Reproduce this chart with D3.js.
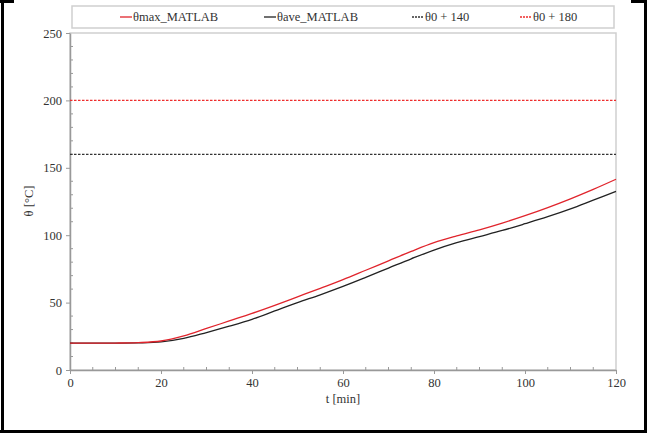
<!DOCTYPE html>
<html><head><meta charset="utf-8">
<script src="https://cdn.jsdelivr.net/npm/d3@7"></script>
<style>body{margin:0;background:#fff}svg{display:block}</style>
</head><body>
<script>
const tMin = [0,5,10,15,20,25,30,35,40,45,50,55,60,65,70,75,80,85,90,95,100,105,110,115,120];
const thetaMax = [20,20,20,20.3,21.5,25.3,30.8,36.4,42,48,54.3,60.6,67,74,81,88,94.5,99.5,104,109,114.5,120.5,127,134,141.5];
const thetaAve = [20,20,20,20.1,20.8,23.4,27.8,32.5,37.6,43.8,50,55.8,62,68.7,75.6,82.5,89,94.5,99,103.5,108.5,113.7,119.5,126,132.5];
const limit140 = 160;
const limit180 = 200;
const xTicks = [0,20,40,60,80,100,120];
const yTicks = [0,50,100,150,200,250];
const legendLabels = ["θmax_MATLAB","θave_MATLAB","θ0 + 140","θ0 + 180"];

const W = 653, H = 439;
const svg = d3.select("body").append("svg").attr("width", W).attr("height", H);
const m = {l:70, r:616, t:33, b:370};
const x = d3.scaleLinear().domain([0,120]).range([m.l, m.r]);
const y = d3.scaleLinear().domain([0,250]).range([m.b, m.t]);
const FONT = '"Liberation Serif"';

// page frame
const frame = svg.append("g").attr("stroke","#000").attr("stroke-width",3).attr("fill","none");
frame.append("path").attr("d","M0,1.5 H14 M2.5,0 V432 M0,431.5 H647 M645.5,432 V0 M631,1.5 H647");

// plot border
svg.append("rect").attr("x",m.l).attr("y",m.t).attr("width",m.r-m.l).attr("height",m.b-m.t)
  .attr("fill","none").attr("stroke","#cfcfcf").attr("stroke-width",1.5);

// minor ticks
const g = svg.append("g");
d3.range(10,250,10).filter(v=>v%50!==0).forEach(v=>{
  g.append("line").attr("x1",m.l).attr("x2",m.l+3).attr("y1",y(v)).attr("y2",y(v)).attr("stroke","#999");
});
d3.range(5,120,5).filter(v=>v%20!==0).forEach(v=>{
  g.append("line").attr("x1",x(v)).attr("x2",x(v)).attr("y1",m.b).attr("y2",m.b-3).attr("stroke","#999");
});

// axes
const ax = svg.append("g").attr("transform",`translate(0,${m.b})`)
  .call(d3.axisBottom(x).tickValues(xTicks).tickSize(4).tickSizeOuter(0).tickPadding(4));
const ay = svg.append("g").attr("transform",`translate(${m.l},0)`)
  .call(d3.axisLeft(y).tickValues(yTicks).tickSize(4).tickSizeOuter(0).tickPadding(4));
[ax,ay].forEach(a=>{
  a.select(".domain").attr("stroke","#999").attr("stroke-width",1.5);
  a.selectAll(".tick line").attr("stroke","#999");
  a.selectAll("text").style("font-family",FONT).style("font-size","12.5px").attr("fill","#333");
});

// axis titles
svg.append("text").attr("x",343).attr("y",403).attr("text-anchor","middle")
  .style("font-family",FONT).style("font-size","12.5px").attr("fill","#333").text("t [min]");
svg.append("text").attr("transform","translate(33,201) rotate(-90)").attr("text-anchor","middle")
  .style("font-family",FONT).style("font-size","12.5px").attr("fill","#333").text("θ [°C]");

// limit lines
svg.append("line").attr("x1",x(0)).attr("x2",x(120)).attr("y1",y(limit140)).attr("y2",y(limit140))
  .attr("stroke","#333").attr("stroke-width",1.2).attr("stroke-dasharray","2.5,1.5");
svg.append("line").attr("x1",x(0)).attr("x2",x(120)).attr("y1",y(limit180)).attr("y2",y(limit180))
  .attr("stroke","#ee2c2c").attr("stroke-width",1.2).attr("stroke-dasharray","2.5,1.5");

// curves
const line = d3.line().x(d=>x(d[0])).y(d=>y(d[1])).curve(d3.curveCatmullRom.alpha(0.5));
svg.append("path").datum(tMin.map((t,i)=>[t,thetaAve[i]])).attr("d",line)
  .attr("fill","none").attr("stroke","#222").attr("stroke-width",1.3);
svg.append("path").datum(tMin.map((t,i)=>[t,thetaMax[i]])).attr("d",line)
  .attr("fill","none").attr("stroke","#e0242c").attr("stroke-width",1.3);

// legend
svg.append("rect").attr("x",72).attr("y",6).attr("width",542).attr("height",22)
  .attr("fill","#fff").attr("stroke","#cfcfcf").attr("stroke-width",1.5);
const legX = [120, 264, 412, 520];
const legStyle = [
  {c:"#e0242c", d:null},
  {c:"#222", d:null},
  {c:"#333", d:"2,1"},
  {c:"#ee2c2c", d:"2,1"}
];
legendLabels.forEach((lab,i)=>{
  const lx = legX[i];
  const l = svg.append("line").attr("x1",lx).attr("x2",lx+12).attr("y1",17).attr("y2",17)
    .attr("stroke",legStyle[i].c).attr("stroke-width",1.3);
  if (legStyle[i].d) l.attr("stroke-dasharray",legStyle[i].d);
  svg.append("text").attr("x",lx+13).attr("y",21).style("font-family",FONT).style("font-size","12.5px")
    .attr("fill","#333").text(lab);
});
</script>
</body></html>
